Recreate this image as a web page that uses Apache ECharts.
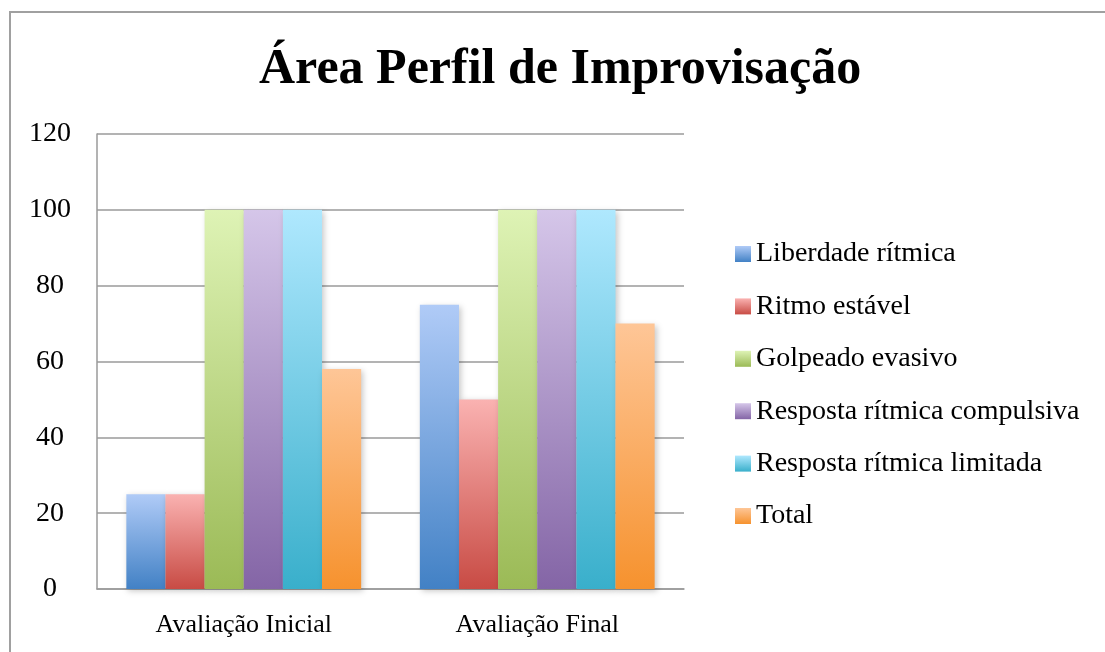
<!DOCTYPE html>
<html>
<head>
<meta charset="utf-8">
<script src="https://cdn.jsdelivr.net/npm/echarts@6/dist/echarts.min.js"></script>
<style>
    html, body { margin: 0; padding: 0; background: #fff; }
    #chart { width: 1105px; height: 652px; }
</style>
</head>
<body>
<div id="chart"></div>
<script>
    var categories = ['Avaliação Inicial', 'Avaliação Final']
    var seriesNames = ['Liberdade rítmica', 'Ritmo estável', 'Golpeado evasivo',
        'Resposta rítmica compulsiva', 'Resposta rítmica limitada', 'Total']
    var liberdade = [25, 75]
    var ritmo = [25, 50]
    var golpeado = [100, 100]
    var compulsiva = [100, 100]
    var limitada = [100, 100]
    var total = [58, 70]
    var values = [liberdade, ritmo, golpeado, compulsiva, limitada, total]

    // top / bottom colour of each bar gradient
    var gradients = [
        ['#b0cbf7', '#4281c5'],
        ['#fab2b1', '#c84b44'],
        ['#def3b5', '#9bba56'],
        ['#d5c6e9', '#8465a6'],
        ['#afe8fe', '#39afcb'],
        ['#fec697', '#f6922e']
    ]

    var fontFamily = '"Liberation Serif", "DejaVu Serif", serif'

    var chart = echarts.init(document.getElementById('chart'))

    var series = seriesNames.map(function (name, i) {
        return {
            name: name,
            type: 'bar',
            barGap: '0%',
            barCategoryGap: '20%',
            data: values[i],
            itemStyle: {
                color: new echarts.graphic.LinearGradient(0, 0, 0, 1, [
                    {offset: 0, color: gradients[i][0]},
                    {offset: 1, color: gradients[i][1]}
                ]),
                shadowBlur: 6,
                shadowColor: 'rgba(0, 0, 0, 0.22)',
                shadowOffsetX: 2,
                shadowOffsetY: 2
            }
        }
    })

    chart.setOption({
        animation: false,
        backgroundColor: '#fff',
        textStyle: {
            fontFamily: fontFamily,
            color: '#000'
        },
        title: {
            text: 'Área Perfil de Improvisação',
            left: 254,
            top: 40,
            textStyle: {
                fontFamily: fontFamily,
                fontSize: 50,
                fontWeight: 'bold',
                color: '#000'
            }
        },
        graphic: [{
            type: 'rect',
            shape: {x: 10, y: 12, width: 1200, height: 700},
            style: {fill: 'none', stroke: '#a0a0a0', lineWidth: 2},
            silent: true
        }],
        legend: {
            orient: 'vertical',
            left: 730,
            top: 235,
            icon: 'rect',
            itemWidth: 16,
            itemHeight: 16,
            itemGap: 24.4,
            textStyle: {
                fontFamily: fontFamily,
                fontSize: 28,
                lineHeight: 28,
                color: '#000'
            },
            data: seriesNames
        },
        grid: {
            left: 97,
            top: 134,
            width: 587,
            height: 455
        },
        xAxis: {
            type: 'category',
            data: categories,
            axisTick: {show: false},
            axisLine: {lineStyle: {color: '#9a9a9a', width: 1.5}},
            axisLabel: {
                fontFamily: fontFamily,
                fontSize: 26,
                color: '#000',
                margin: 23
            }
        },
        yAxis: {
            type: 'value',
            min: 0,
            max: 120,
            interval: 20,
            axisLine: {show: true, lineStyle: {color: '#9a9a9a', width: 1.5}},
            axisTick: {show: false},
            splitLine: {lineStyle: {color: '#9a9a9a', width: 1.5}},
            axisLabel: {
                fontFamily: fontFamily,
                fontSize: 28,
                color: '#000',
                align: 'center',
                margin: 47
            }
        },
        series: series
    })
</script>
</body>
</html>
